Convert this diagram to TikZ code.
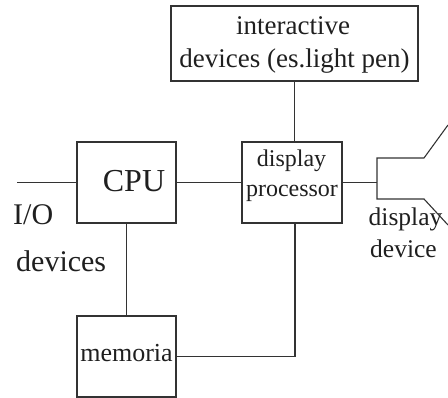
\documentclass[tikz,border=0pt]{standalone}
\usepackage{fontspec}
\setmainfont{Liberation Serif}
\definecolor{linegray}{gray}{0.2}
\definecolor{textgray}{gray}{0.12}
\begin{document}
\begin{tikzpicture}[x=1pt,y=-1pt]
\tikzset{
  box/.style={draw=linegray, line width=1.1pt, rectangle, inner sep=0pt},
  wire/.style={draw=linegray, line width=1.1pt},
  lbl/.style={inner sep=0pt, text=textgray, anchor=base},
  lblw/.style={inner sep=0pt, text=textgray, anchor=base west},
  fs/.style={font=\fontsize{#1}{#1}\selectfont}
}
\useasboundingbox (0,0) rectangle (448,398);

% blocks
\node[box, minimum width=247pt, minimum height=75pt] (inter) at (294.5,43.5) {};
\node[box, minimum width=100pt, minimum height=81pt] (dp) at (292,182.5) {};
\node[box, minimum width=99pt, minimum height=81pt] (cpu) at (126.5,182.5) {};
\node[box, minimum width=99pt, minimum height=81pt] (mem) at (126.5,356.5) {};

% connectors
\coordinate (iostart) at (17,182.5);
\coordinate (dpin) at ([xshift=3pt]dp.south);
\draw[wire] (iostart) -- (cpu.west);
\draw[wire] (cpu.east) -- (dp.west);
\draw[wire] (inter.south) -- (inter.south |- dp.north);
\draw[wire] (cpu.south) -- (mem.north);
\draw[wire] (mem.east) -| (dpin);

% display device (screen outline)
\coordinate (fork) at (377,182.5);
\coordinate (ftop) at (377,158);
\coordinate (fbot) at (377,199);
\coordinate (ctop) at (424,158);
\coordinate (cbot) at (424,199);
\coordinate (etop) at (448,125);
\coordinate (ebot) at (448,225);
\draw[wire] (dp.east) -- (fork);
\draw[wire, line join=miter] (etop) -- (ctop) -- (ftop) -- (fbot) -- (cbot) -- (ebot);

% texts
\node[lbl, fs=27] (tinter1) at (293,35) {interactive};
\node[lbl, fs=27] (tinter2) at (294.5,68) {devices (es.light pen)};
\node[lbl, fs=24] (tdp1) at (291.5,167) {display};
\node[lbl, fs=24] (tdp2) at (292,197) {processor};
\node[lbl, fs=32] (tcpu) at (134,192) {CPU};
\node[lbl, fs=26] (tmem) at (126.5,362) {memoria};
\node[lblw, fs=30] (tio1) at (13,225) {I/O};
\node[lblw, fs=30] (tio2) at (16,272) {devices};
\node[lbl, fs=25.5] (tdd1) at (405.5,226) {display};
\node[lbl, fs=25.5] (tdd2) at (403.5,258) {device};
\end{tikzpicture}
\end{document}
